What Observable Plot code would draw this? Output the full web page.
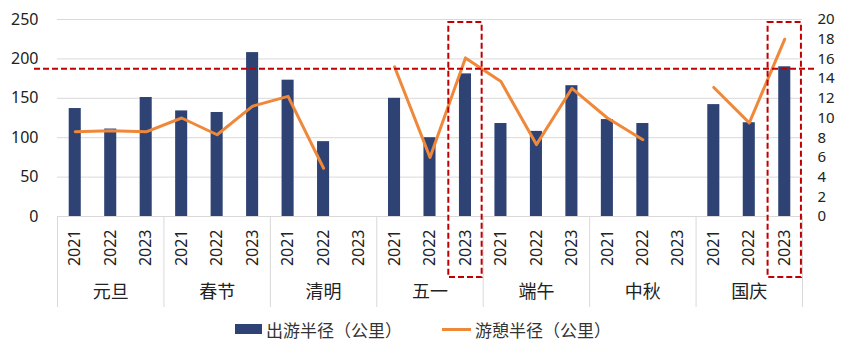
<!DOCTYPE html>
<html><head><meta charset="utf-8">
<script src="https://cdn.jsdelivr.net/npm/d3@7"></script>
<script src="https://cdn.jsdelivr.net/npm/@observablehq/plot@0.6"></script>
<style>
body{margin:0;background:#fff;font-family:"Noto Sans","Noto Sans CJK SC",sans-serif;}
#chart svg{display:block;}
#legend{display:flex;justify-content:center;align-items:center;gap:40px;height:34px;font-size:17px;color:#333;font-family:"Noto Sans CJK SC","Noto Sans",sans-serif;}
.item{display:flex;align-items:center;gap:4px;}
.sw1{width:27px;height:10px;background:#2E4374;}
.sw2{width:29px;height:3px;background:#F0883A;}
</style></head><body>
<div id="chart"></div>
<div id="legend"></div>
<script>
const holidays = ["元旦","春节","清明","五一","端午","中秋","国庆"];
const years = ["2021","2022","2023"];
const travelRadius = [137,111,151, 134,132,208, 173,95,null, 150,100,181, 118,108,166, 123,118,null, 142,119,190];
const restRadius = [8.6,8.7,8.6, 10.0,8.3,11.2, 12.2,4.9,null, 15.2,6.0,16.1, 13.7,7.3,13.0, 10.0,7.8,null, 13.1,9.5,18.0];
const leftTicks = [0,50,100,150,200,250];
const rightTicks = [0,2,4,6,8,10,12,14,16,18,20];
const threshold = 15;
const highlights = [["五一","2023"],["国庆","2023"]];
const seriesNames = ["出游半径（公里）","游憩半径（公里）"];

const ratio = 250/20;
const rows = holidays.flatMap((h,gi)=>years.map((y,yi)=>{
  const i = gi*3+yi;
  return {i, holiday:h, year:y, travel:travelRadius[i], rest:restRadius[i]};
}));
const seps = d3.range(0, holidays.length+1).map(g=>g*3-0.5);
const groupLabels = holidays.map((h,gi)=>({h, i:gi*3+1}));
const hiIdx = highlights.map(([h,y])=>holidays.indexOf(h)*3+years.indexOf(y));

const chart = Plot.plot({
  width: 846, height: 312,
  marginLeft: 57, marginRight: 44, marginTop: 19, marginBottom: 96,
  style: {fontFamily: '"Noto Sans","Noto Sans CJK SC",sans-serif', color:"#222"},
  x: {type:"linear", domain:[-0.5, rows.length-0.5], axis:null},
  y: {domain:[0,250], axis:null},
  marks: [
    Plot.ruleY(leftTicks, {stroke:"#d9d9d9", strokeWidth:1}),
    Plot.rectY(rows.filter(d=>d.travel!=null), {x1:d=>d.i-0.17, x2:d=>d.i+0.17, y:"travel", fill:"#2E4374"}),
    Plot.line(rows, {x:"i", y:d=>d.rest==null?NaN:d.rest*ratio, stroke:"#F0883A", strokeWidth:3}),
    Plot.ruleX(seps, {stroke:"#d9d9d9", strokeWidth:1, insetTop:197, insetBottom:-91}),
    Plot.ruleY([threshold*ratio], {stroke:"#C00000", strokeWidth:2, strokeDasharray:"6,3", insetLeft:-23, insetRight:-13}),
    Plot.rect(hiIdx, {x1:i=>i-0.47, x2:i=>i+0.47, fill:"none", stroke:"#C00000", strokeWidth:2, strokeDasharray:"6,3", insetTop:3, insetBottom:-61}),
    Plot.axisY(leftTicks, {anchor:"left", label:null, tickSize:0, tickPadding:19, fontSize:16}),
    Plot.axisY(rightTicks.map(v=>v*ratio), {anchor:"right", label:null, tickSize:0, tickPadding:15, fontSize:15, lineHeight:1, tickFormat:d=>String(Math.round(d/ratio))}),
    Plot.axisX(rows.map(d=>d.i), {anchor:"bottom", label:null, tickSize:0, tickPadding:13, tickRotate:-90, fontSize:16, tickFormat:i=>years[i%3]}),
    Plot.text(groupLabels, {x:"i", y:0, text:"h", dy:76, fontSize:18, fill:"#222"})
  ]
});
document.getElementById("chart").appendChild(chart);
const lg = document.getElementById("legend");
lg.innerHTML = `<div class="item"><div class="sw1"></div><span>${seriesNames[0]}</span></div><div class="item"><div class="sw2"></div><span>${seriesNames[1]}</span></div>`;
</script>
</body></html>
